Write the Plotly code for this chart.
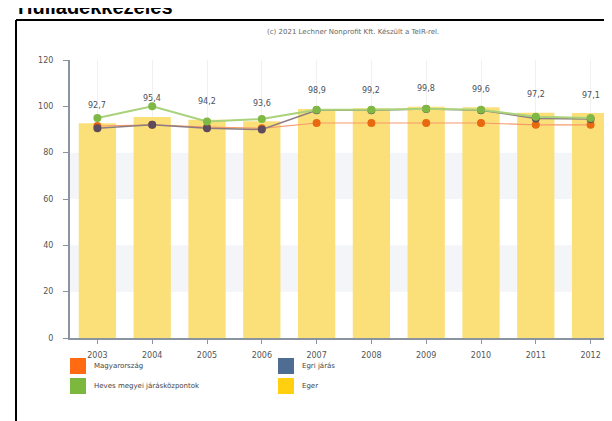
import plotly.graph_objects as go

years = ["2003", "2004", "2005", "2006", "2007", "2008", "2009", "2010", "2011", "2012"]
eger = [92.7, 95.4, 94.2, 93.6, 98.9, 99.2, 99.8, 99.6, 97.2, 97.1]
magyarorszag = [91.5, 92.0, 91.0, 90.5, 92.8, 92.8, 92.8, 92.8, 92.0, 92.0]
heves_jk = [95.0, 100.0, 93.5, 94.5, 98.5, 98.5, 99.0, 98.5, 95.5, 95.0]
egri_jaras = [90.5, 92.0, 90.5, 90.0, 98.3, 98.3, 98.8, 98.3, 94.8, 94.5]

legend_names = ["Magyarország", "Heves megyei járásközpontok", "Egri járás", "Eger"]
legend_colors = ["#ff6a13", "#7cb83e", "#4f6d92", "#ffcf10"]

W, H = 612, 421
L, R, T, B = 62, 2, 52, 91


def px(x):
    return (x - L) / (W - L - R)


def py(y):
    return 1 - (y - T) / (H - T - B)


fig = go.Figure()

fig.add_trace(go.Bar(x=years, y=eger, marker=dict(color="#fbe07a", line=dict(width=0)),
                     name="Eger", showlegend=False))

fig.add_trace(go.Scatter(x=years, y=magyarorszag, mode="lines+markers",
                         line=dict(color="#f79a6a", width=1.2),
                         marker=dict(color="#e8690f", size=8), showlegend=False))
fig.add_trace(go.Scatter(x=years, y=egri_jaras, mode="lines+markers",
                         line=dict(color="#8d7d80", width=1.5),
                         marker=dict(color="#5e4b5c", size=8), showlegend=False))
fig.add_trace(go.Scatter(x=years, y=heves_jk, mode="lines+markers",
                         line=dict(color="#a9d27a", width=2),
                         marker=dict(color="#7fb845", size=8), showlegend=False))

# value labels above the bars (category index as x)
for i, v in enumerate(eger):
    fig.add_annotation(x=i, y=v, text=f"{v:.1f}".replace(".", ","), showarrow=False,
                       yshift=18, font=dict(family="DejaVu Sans", size=8, color="#4a5060"))

# alternating background bands
for lo in [20, 60]:
    fig.add_shape(type="rect", xref="paper", yref="y", x0=0, x1=1, y0=lo, y1=lo + 20,
                  fillcolor="#f3f5f8", line=dict(width=0), layer="below")

# frame of the panel
fig.add_shape(type="line", xref="paper", yref="paper", x0=px(8), x1=px(8), y0=py(12), y1=py(H + 5),
              line=dict(color="black", width=2))
fig.add_shape(type="line", xref="paper", yref="paper", x0=px(8), x1=px(W + 5), y0=py(12), y1=py(12),
              line=dict(color="black", width=2))

# legend squares
leg_pos = [(62, 358), (62, 378), (270, 358), (270, 378)]
for (lx, ly), name, col in zip(leg_pos, legend_names, legend_colors):
    fig.add_shape(type="rect", xref="paper", yref="paper", x0=px(lx), x1=px(lx + 16),
                  y0=py(ly - 8), y1=py(ly + 8), fillcolor=col, line=dict(width=0))
    fig.add_annotation(xref="paper", yref="paper", x=px(lx + 22), y=py(ly), text=name,
                       showarrow=False, xanchor="left", yanchor="middle",
                       font=dict(family="DejaVu Sans", size=7, color="#444"))

fig.add_annotation(xref="paper", yref="paper", x=px(345), y=py(18),
                   text="(c) 2021 Lechner Nonprofit Kft. Készült a TeIR-rel.", showarrow=False,
                   font=dict(family="DejaVu Sans", size=7, color="#666"))
fig.add_annotation(xref="paper", yref="paper", x=px(8), y=py(0), xanchor="left", yanchor="bottom",
                   text="<b>Hulladékkezelés</b>", showarrow=False,
                   font=dict(family="Liberation Sans", size=20, color="black"), yshift=-12)

fig.update_layout(
    width=W, height=H,
    margin=dict(l=L, r=R, t=T, b=B),
    paper_bgcolor="white", plot_bgcolor="white",
    bargap=0.32,
    separators=", ",
    xaxis=dict(type="category", range=[-0.5, 9.5], showgrid=True, gridcolor="#f0f0f0",
               ticks="outside", ticklen=4, ticklabelstandoff=4,
               tickcolor="#8a93a0", showline=True, linecolor="#8a93a0", linewidth=2,
               tickfont=dict(family="DejaVu Sans", size=8, color="#555")),
    yaxis=dict(range=[0, 120], dtick=20, showgrid=False, zeroline=False,
               ticks="outside", ticklen=5, tickcolor="#8a93a0", ticklabelstandoff=8,
               showline=True, linecolor="#8a93a0", linewidth=2,
               tickfont=dict(family="DejaVu Sans", size=8, color="#555")),
)

fig.write_html("out.html")
